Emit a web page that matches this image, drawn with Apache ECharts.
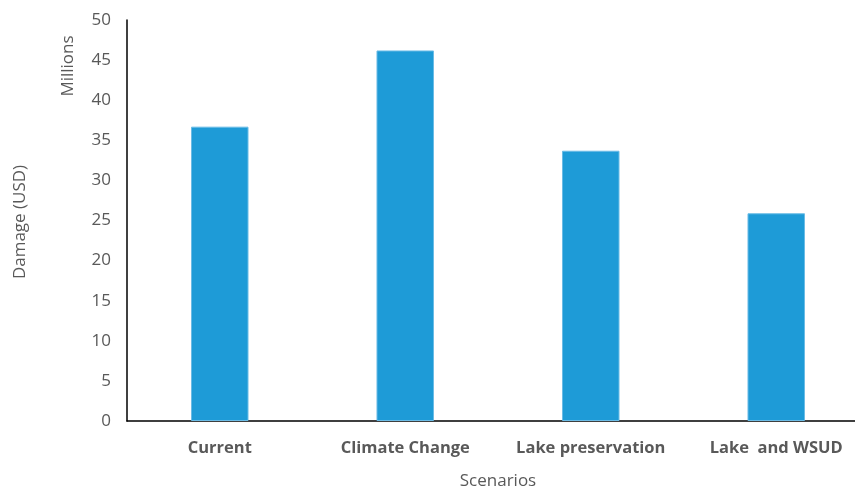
<!DOCTYPE html>
<html>
<head>
<meta charset="utf-8">
<script src="https://cdn.jsdelivr.net/npm/echarts@6/dist/echarts.min.js"></script>
<style>
  html, body { margin: 0; padding: 0; background: #fff; }
  #chart { width: 855px; height: 490px; }
</style>
</head>
<body>
<div id="chart"></div>
<script>
// Flood damage per scenario, in millions of USD
const categories = ['Current', 'Climate Change', 'Lake preservation', 'Lake  and WSUD'];
const damage = [36.7, 46.2, 33.7, 25.9];
const yTicks = { min: 0, max: 50, interval: 5 };

const chart = echarts.init(document.getElementById('chart'), null, { renderer: 'canvas' });
const FONT = 'Open Sans';

chart.setOption({
  animation: false,
  // plot area runs past the right edge so the last bar sits near it
  grid: { left: 127, top: 20, height: 401, width: 742, outerBoundsMode: 'none', containLabel: false },
  xAxis: {
    type: 'category',
    data: categories,
    axisLine: { lineStyle: { color: '#000', width: 1.5 } },
    axisTick: { show: false },
    axisLabel: { interval: 0, hideOverlap: false, color: '#595959', fontFamily: FONT, fontWeight: 'bold', fontSize: 16.5, margin: 19 },
    name: 'Scenarios',
    nameLocation: 'middle',
    nameGap: 52,
    nameTextStyle: { color: '#595959', fontFamily: FONT, fontSize: 17 }
  },
  yAxis: {
    type: 'value',
    min: yTicks.min, max: yTicks.max, interval: yTicks.interval,
    axisLine: { show: true, lineStyle: { color: '#000', width: 1.5 } },
    axisTick: { show: false },
    splitLine: { show: false },
    axisLabel: { color: '#595959', fontFamily: FONT, fontSize: 17, margin: 16 }
  },
  graphic: [
    {
      type: 'text', x: 20, y: 222, rotation: Math.PI / 2,
      style: { text: 'Damage (USD)', fill: '#595959', font: '17px "Open Sans"', align: 'center', verticalAlign: 'middle' }
    },
    {
      type: 'text', x: 68, y: 66, rotation: Math.PI / 2,
      style: { text: 'Millions', fill: '#595959', font: '17px "Open Sans"', align: 'center', verticalAlign: 'middle' }
    }
  ],
  series: [{
    type: 'bar',
    data: damage,
    barWidth: '31%',
    itemStyle: { color: '#1E9BD7', borderColor: '#6BBCE6', borderWidth: 1 }
  }]
});
</script>
</body>
</html>
